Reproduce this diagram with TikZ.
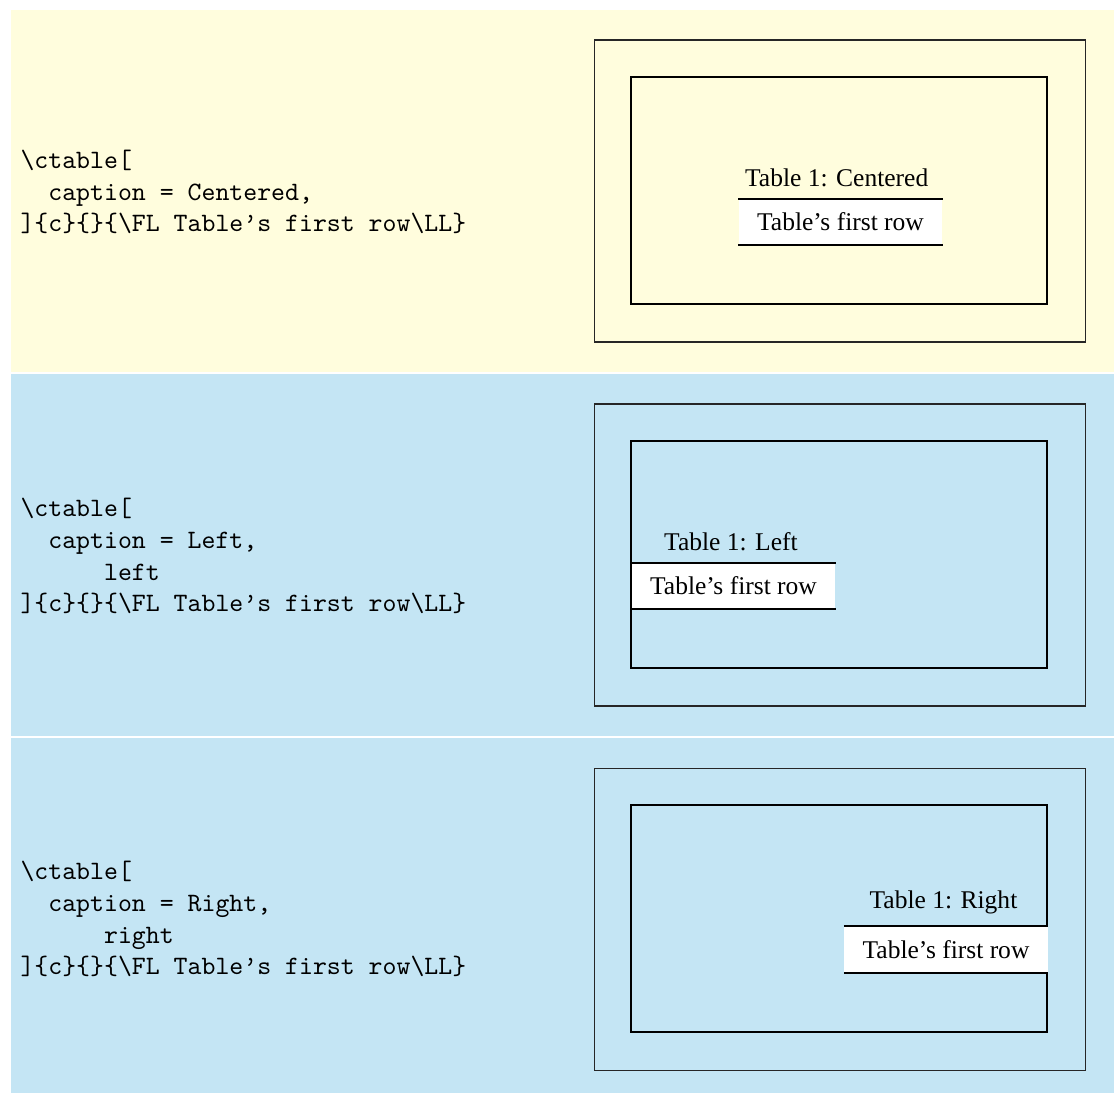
\documentclass[tikz,border=0pt]{standalone}
\usepackage{fontspec}
\setmainfont{Liberation Serif}
\usepackage{tikz}
\usetikzlibrary{positioning}
\definecolor{notebg}{RGB}{255,253,221}
\definecolor{samplebg}{RGB}{196,229,244}
\tikzset{
    pageframe/.style={draw=black!85, line width=0.4pt},
    textframe/.style={draw=black, line width=0.6pt},
    coderow/.style={anchor=west, align=left, inner sep=0pt, font=\ttfamily\fontsize{10.4}{12.5}\selectfont},
    firstrow/.style={fill=white, inner xsep=0pt, inner ysep=0pt, minimum width=79.6pt, minimum height=18pt, font=\fontsize{10}{12}\selectfont},
    captext/.style={above=4.4pt of #1, inner sep=0pt, font=\fontsize{10}{12}\selectfont},
    booktab/.style={line width=0.8pt}
}
\newcommand{\bsl}{\textbackslash}
\newcommand{\ind}[1]{\hphantom{#1}}
\begin{document}
\begin{tikzpicture}[x={(0.392pt,0)}, y={(0,-0.392pt)}]
    \useasboundingbox (0,0) rectangle (1114,1093);
    % backgrounds
    \fill[notebg] (11,10) rectangle (1114,372);
    \fill[samplebg] (11,374) rectangle (1114,735.5);
    \fill[samplebg] (11,737.5) rectangle (1114,1093);

    % centered
    \node[coderow] (codeC) at (20,192) {\bsl ctable[\\
        \ind{xx}caption = Centered,\\
        ]\{c\}\{\}\{\bsl FL Table’s first row\bsl LL\}};
    \draw[pageframe] (594,40) rectangle (1085,342);
    \draw[textframe] (631,77) rectangle (1047,304);
    \node[firstrow] (rowC) at (840.5,222) {Table’s first row};
    \draw[booktab] (rowC.north west) -- (rowC.north east);
    \draw[booktab] (rowC.south west) -- (rowC.south east);
    \node[captext=rowC, xshift=-1.5pt] (capC) {Table 1: Centered};

    % left
    \node[coderow] (codeL) at (20,556) {\bsl ctable[\\
        \ind{xx}caption = Left,\\
        \ind{xxxxxx}left\\
        ]\{c\}\{\}\{\bsl FL Table’s first row\bsl LL\}};
    \draw[pageframe] (594,404) rectangle (1085,706);
    \draw[textframe] (631,441) rectangle (1047,668);
    \node[firstrow] (rowL) at (733.5,586) {Table’s first row};
    \draw[booktab] (rowL.north west) -- (rowL.north east);
    \draw[booktab] (rowL.south west) -- (rowL.south east);
    \node[captext=rowL, xshift=-1pt] (capL) {Table 1: Left};

    % right
    \node[coderow] (codeR) at (20,919) {\bsl ctable[\\
        \ind{xx}caption = Right,\\
        \ind{xxxxxx}right\\
        ]\{c\}\{\}\{\bsl FL Table’s first row\bsl LL\}};
    \draw[pageframe] (594,768) rectangle (1085,1070);
    \draw[textframe] (631,805) rectangle (1047,1032);
    \node[firstrow] (rowR) at (946,949.5) {Table’s first row};
    \draw[booktab] (rowR.north west) -- (rowR.north east);
    \draw[booktab] (rowR.south west) -- (rowR.south east);
    \node[captext=rowR, xshift=-1pt] (capR) {Table 1: Right};
\end{tikzpicture}
\end{document}
